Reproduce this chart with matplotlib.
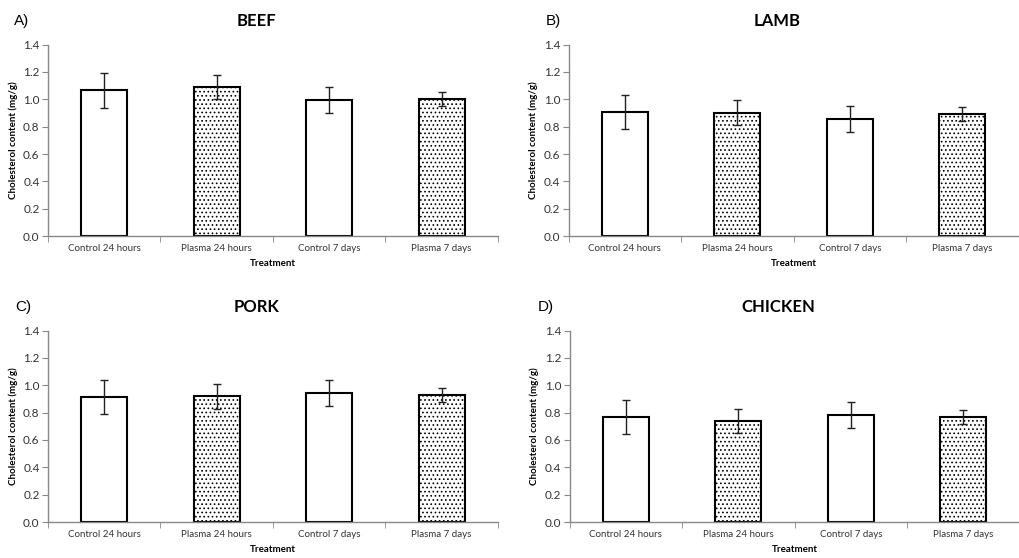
import numpy as np
import matplotlib.pyplot as plt

plt.rcParams['font.family'] = ['Lato', 'DejaVu Sans']
plt.rcParams['hatch.color'] = '#9a9a9a'
plt.rcParams['hatch.linewidth'] = 0.7

treatments = ['Control 24 hours', 'Plasma 24 hours', 'Control 7 days', 'Plasma 7 days']
panels = ['A)', 'B)', 'C)', 'D)']
meats = ['BEEF', 'LAMB', 'PORK', 'CHICKEN']

beef_mean = [1.065, 1.09, 0.995, 1.0]
beef_err = [0.127, 0.09, 0.095, 0.05]
lamb_mean = [0.91, 0.903, 0.858, 0.893]
lamb_err = [0.125, 0.092, 0.096, 0.049]
pork_mean = [0.915, 0.92, 0.945, 0.927]
pork_err = [0.125, 0.092, 0.095, 0.05]
chicken_mean = [0.768, 0.74, 0.784, 0.768]
chicken_err = [0.125, 0.088, 0.095, 0.048]

means = [beef_mean, lamb_mean, pork_mean, chicken_mean]
errs = [beef_err, lamb_err, pork_err, chicken_err]

fig = plt.figure(figsize=(10.19, 5.58), dpi=100)
boxes = [(0.047, 0.577), (0.558, 0.577), (0.047, 0.0645), (0.559, 0.0645)]
letter_dx = [-0.076, -0.05, -0.072, -0.07]

x = np.arange(len(treatments))
for k in range(4):
    ax = fig.add_axes([boxes[k][0], boxes[k][1], 0.4416, 0.343])
    bars = ax.bar(x, means[k], width=0.41, color='white', edgecolor='black',
                  linewidth=1.5, zorder=2)
    for i, b in enumerate(bars):
        if i % 2 == 1:
            b.set_hatch('....')
    ax.errorbar(x, means[k], yerr=errs[k], fmt='none', ecolor='#222222',
                elinewidth=1.0, capsize=3, capthick=1.0, zorder=3)

    ax.set_xlim(-0.5, 3.5)
    ax.set_ylim(0, 1.4)
    ax.set_yticks(np.arange(0, 1.41, 0.2))
    ax.set_yticklabels(['%.1f' % v for v in np.arange(0, 1.41, 0.2)])
    ax.set_xticks(x)
    ax.set_xticklabels(treatments)
    ax.set_xticks(np.arange(-0.5, 3.6, 1.0), minor=True)
    ax.tick_params(axis='x', which='major', length=0, labelsize=7,
                   colors='#333333', pad=6)
    ax.tick_params(axis='x', which='minor', length=4, color='#888888')
    ax.tick_params(axis='y', length=4, color='#888888', labelsize=8.5,
                   labelcolor='#333333', pad=2)
    for s in ['top', 'right']:
        ax.spines[s].set_visible(False)
    for s in ['left', 'bottom']:
        ax.spines[s].set_color('#888888')
        ax.spines[s].set_linewidth(1.0)

    ax.set_ylabel('Cholesterol content (mg/g)', fontsize=7, fontweight='bold',
                  labelpad=4)
    ax.set_xlabel('Treatment', fontsize=7, fontweight='bold', labelpad=4)
    ax.text(0.464, 1.125, meats[k], transform=ax.transAxes, ha='center',
            va='center', fontsize=12, fontweight='bold')
    ax.text(letter_dx[k], 1.125, panels[k], transform=ax.transAxes, ha='left',
            va='center', fontsize=11, family='Liberation Sans')

fig.savefig('out.png', dpi=100)
